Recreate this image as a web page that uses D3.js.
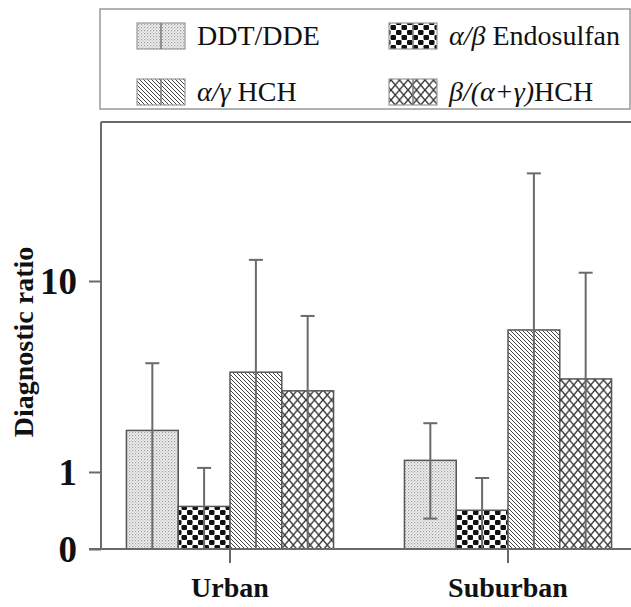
<!DOCTYPE html>
<html>
<head>
<meta charset="utf-8">
<script src="https://cdn.jsdelivr.net/npm/d3@7"></script>
</head>
<body style="margin:0">
<script>
// datos
var grupos = ['Urban', 'Suburban'];
var series = ['DDT/DDE', 'Endosulfan', 'HCH', 'betaHCH'];
var urbanMedia = [1.65, 0.66, 3.33, 2.66];
var urbanSup = [3.71, 1.05, 12.9, 6.56];
var urbanInf = [0.2, 0.3, 0.2, 0.2];
var suburbanMedia = [1.15, 0.63, 5.54, 3.07];
var suburbanSup = [1.80, 0.93, 36.6, 11.05];
var suburbanInf = [0.57, 0.3, 0.2, 0.2];
var yTickValores = [1, 10];
var yTickTextos = ['1', '10'];
var yMin = 0.395, yMax = 68;
var yMinTexto = '0';

var fuente = "'Liberation Serif'";
var width = 631;
var height = 607;
var base = 549;
var arriba = 122;
var ejeX = 101;

var svg = d3.select('body')
  .append('svg')
  .attr('width', width)
  .attr('height', height)
  .style('display', 'block');

var defs = svg.append('defs');

// tramas
var p1 = defs.append('pattern').attr('id', 'pDDT').attr('patternUnits', 'userSpaceOnUse')
  .attr('width', 3).attr('height', 3);
p1.append('rect').attr('width', 3).attr('height', 3).attr('fill', '#f2f2f2');
p1.append('rect').attr('x', 0).attr('y', 0).attr('width', 1.2).attr('height', 1.2).attr('fill', '#9a9a9a');
p1.append('rect').attr('x', 1.5).attr('y', 1.5).attr('width', 1.2).attr('height', 1.2).attr('fill', '#b5b5b5');

var p2 = defs.append('pattern').attr('id', 'pEndo').attr('patternUnits', 'userSpaceOnUse')
  .attr('width', 11).attr('height', 10);
p2.append('rect').attr('width', 11).attr('height', 10).attr('fill', '#fff');
p2.append('rect').attr('x', 0).attr('y', 0).attr('width', 5.5).attr('height', 5).attr('rx', 1.2).attr('fill', '#111');
p2.append('rect').attr('x', 5.5).attr('y', 5).attr('width', 5.5).attr('height', 5).attr('rx', 1.2).attr('fill', '#111');

var p3 = defs.append('pattern').attr('id', 'pHCH').attr('patternUnits', 'userSpaceOnUse')
  .attr('width', 4).attr('height', 4);
p3.append('rect').attr('width', 4).attr('height', 4).attr('fill', '#fff');
p3.append('path').attr('d', 'M-1,-1 L5,5 M-1,3 L1,5 M3,-1 L5,1')
  .attr('stroke', '#444').attr('stroke-width', 1);

var p4 = defs.append('pattern').attr('id', 'pBeta').attr('patternUnits', 'userSpaceOnUse')
  .attr('width', 8.5).attr('height', 10);
p4.append('rect').attr('width', 8.5).attr('height', 10).attr('fill', '#fff');
p4.append('path').attr('d', 'M0,0 L8.5,10 M8.5,0 L0,10')
  .attr('stroke', '#333').attr('stroke-width', 1.4);

var tramas = ['url(#pDDT)', 'url(#pEndo)', 'url(#pHCH)', 'url(#pBeta)'];

// escalas
var yScale = d3.scaleLog().domain([yMin, yMax]).range([base, arriba]);
var x0 = d3.scaleBand().domain(grupos).range([91, 647]).paddingInner(0.255).paddingOuter(0.1275);
var x1 = d3.scaleBand().domain(series).range([0, x0.bandwidth()]);

var datos = [];
grupos.forEach(function (g, gi) {
  var media = gi == 0 ? urbanMedia : suburbanMedia;
  var sup = gi == 0 ? urbanSup : suburbanSup;
  var inf = gi == 0 ? urbanInf : suburbanInf;
  series.forEach(function (s, si) {
    datos.push({ grupo: g, serie: s, i: si, v: media[si], sup: sup[si], inf: inf[si] });
  });
});

// barras
svg.append('g')
  .selectAll('rect')
  .data(datos)
  .enter()
  .append('rect')
  .attr('x', function (d) { return x0(d.grupo) + x1(d.serie); })
  .attr('y', function (d) { return yScale(d.v); })
  .attr('width', x1.bandwidth())
  .attr('height', function (d) { return base - yScale(d.v); })
  .attr('fill', function (d) { return tramas[d.i]; })
  .attr('stroke', '#555')
  .attr('stroke-width', 1.5);

// barras de error
var err = svg.append('g').attr('stroke', '#6a6a6a').attr('stroke-width', 2);
datos.forEach(function (d) {
  var cx = x0(d.grupo) + x1(d.serie) + x1.bandwidth() / 2;
  var yInf = d.inf < yMin ? base : yScale(d.inf);
  err.append('line').attr('x1', cx).attr('x2', cx).attr('y1', yScale(d.sup)).attr('y2', yInf);
  err.append('line').attr('x1', cx - 7).attr('x2', cx + 7).attr('y1', yScale(d.sup)).attr('y2', yScale(d.sup));
  if (d.inf >= yMin) {
    err.append('line').attr('x1', cx - 7).attr('x2', cx + 7).attr('y1', yInf).attr('y2', yInf);
  }
});

// ejes
var yAxis = d3.axisLeft(yScale)
  .tickValues([yMin].concat(yTickValores))
  .tickFormat(function (d, i) { return i == 0 ? yMinTexto : yTickTextos[i - 1]; })
  .tickSize(12)
  .tickPadding(12);

var gy = svg.append('g')
  .attr('transform', 'translate(' + ejeX + ',0)')
  .call(yAxis);
gy.select('.domain').remove();
gy.selectAll('line').attr('stroke', '#6a6a6a').attr('stroke-width', 2);
gy.selectAll('text')
  .style('font-family', fuente)
  .attr('font-weight', 'bold')
  .attr('font-size', 37)
  .attr('fill', '#111')
  .attr('dy', '0.34em');

svg.append('line')
  .attr('x1', ejeX).attr('x2', ejeX).attr('y1', arriba).attr('y2', base)
  .attr('stroke', '#6a6a6a').attr('stroke-width', 2);
svg.append('line')
  .attr('x1', ejeX).attr('x2', width).attr('y1', arriba).attr('y2', arriba)
  .attr('stroke', '#6a6a6a').attr('stroke-width', 2);
svg.append('line')
  .attr('x1', ejeX - 12).attr('x2', width).attr('y1', base).attr('y2', base)
  .attr('stroke', '#6a6a6a').attr('stroke-width', 2);

var xAxis = d3.axisBottom(x0).tickSize(14).tickPadding(14);
var gx = svg.append('g')
  .attr('transform', 'translate(0,' + base + ')')
  .call(xAxis);
gx.select('.domain').remove();
gx.selectAll('line').attr('stroke', '#6a6a6a').attr('stroke-width', 2);
gx.selectAll('text')
  .style('font-family', fuente)
  .attr('font-weight', 'bold')
  .attr('font-size', 28)
  .attr('fill', '#111');

svg.append('text')
  .attr('transform', 'translate(33,342) rotate(-90)')
  .attr('text-anchor', 'middle')
  .style('font-family', fuente)
  .attr('font-weight', 'bold')
  .attr('font-size', 28)
  .attr('fill', '#111')
  .text('Diagnostic ratio');

// leyenda
svg.append('rect')
  .attr('x', 100).attr('y', 9).attr('width', 530).attr('height', 100)
  .attr('fill', 'none').attr('stroke', '#999').attr('stroke-width', 1.5);

var leyenda = [
  { i: 0, x: 137, y: 36, partes: [['DDT/DDE', 'normal']] },
  { i: 1, x: 389, y: 36, partes: [['α/β', 'italic'], [' Endosulfan', 'normal']] },
  { i: 2, x: 137, y: 92, partes: [['α/γ', 'italic'], [' HCH', 'normal']] },
  { i: 3, x: 389, y: 92, partes: [['β/(α+γ)', 'italic'], ['HCH', 'normal']] }
];

leyenda.forEach(function (l) {
  svg.append('rect')
    .attr('x', l.x).attr('y', l.y - 13).attr('width', 48).attr('height', 26)
    .attr('fill', tramas[l.i]).attr('stroke', '#999').attr('stroke-width', 1.2);
  svg.append('line')
    .attr('x1', l.x + 24).attr('x2', l.x + 24).attr('y1', l.y - 13).attr('y2', l.y + 13)
    .attr('stroke', '#777').attr('stroke-width', 1.5);
  var t = svg.append('text')
    .attr('x', l.x + 60).attr('y', l.y + 9)
    .style('font-family', fuente)
    .attr('font-size', 28)
    .attr('fill', '#111');
  l.partes.forEach(function (p) {
    t.append('tspan').attr('font-style', p[1]).text(p[0]);
  });
});
</script>
</body>
</html>
